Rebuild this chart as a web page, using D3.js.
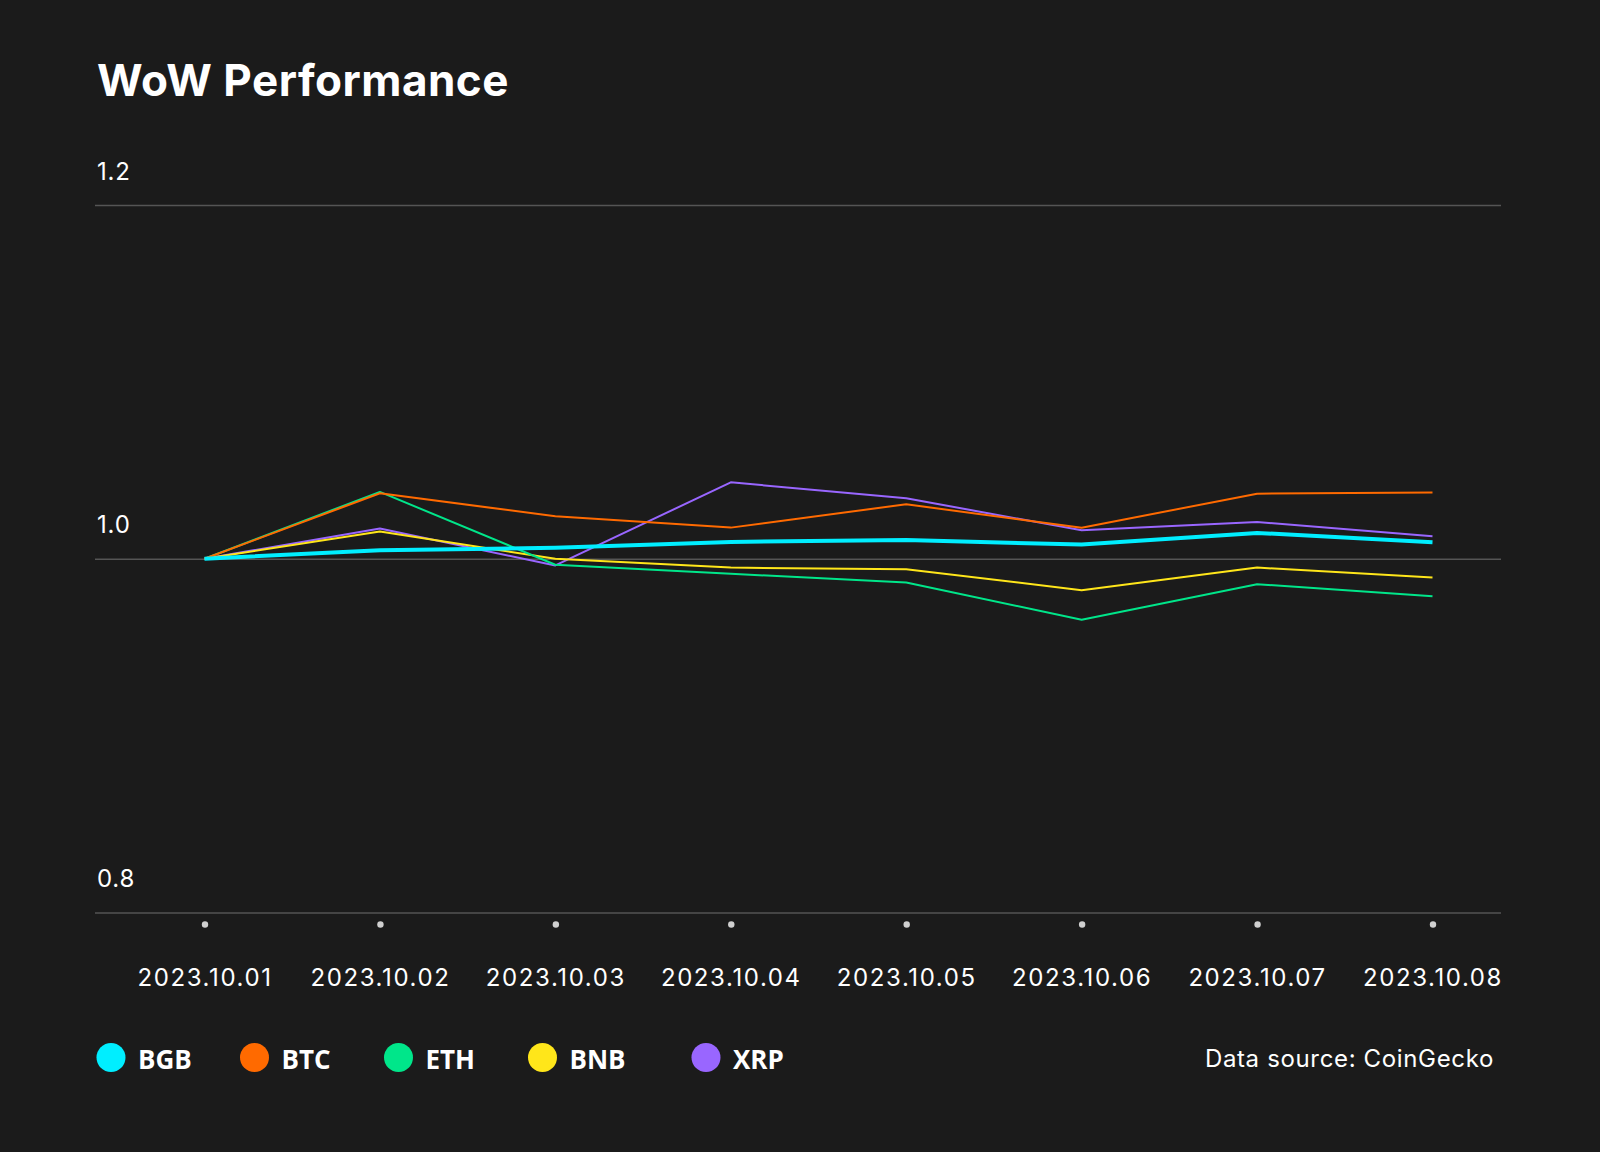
<!DOCTYPE html>
<html>
<head>
<meta charset="utf-8">
<script src="https://cdn.jsdelivr.net/npm/d3@7"></script>
<style>
  html, body { margin: 0; padding: 0; background: #1b1b1b; }
  svg { display: block; }
</style>
</head>
<body>
<svg id="chart" width="1600" height="1152"></svg>
<script>
// ---- data ----
const dates = ["2023.10.01","2023.10.02","2023.10.03","2023.10.04","2023.10.05","2023.10.06","2023.10.07","2023.10.08"];
const seriesNames = ["BGB","BTC","ETH","BNB","XRP"];
const bgb = [1.000, 1.0048, 1.0062, 1.0095, 1.0106, 1.0080, 1.0146, 1.0093];
const btc = [1.000, 1.0370, 1.0240, 1.0176, 1.0308, 1.0175, 1.0368, 1.0374];
const eth = [1.000, 1.0378, 0.9966, 0.9915, 0.9866, 0.9655, 0.9856, 0.9788];
const bnb = [1.000, 1.0154, 1.0000, 0.9950, 0.9941, 0.9822, 0.9950, 0.9894];
const xrp = [1.000, 1.0171, 0.9962, 1.0432, 1.0342, 1.0161, 1.0208, 1.0127];
const yTicks = [0.8, 1.0, 1.2];
const colors = ["#00eeff","#ff6a00","#00e68a","#ffe61a","#9966ff"];

const seriesValues = [bgb, btc, eth, bnb, xrp];

// ---- layout ----
const svg = d3.select("#chart");
const W = 1600, H = 1152;
svg.append("rect").attr("width", W).attr("height", H).attr("fill", "#1b1b1b");

const plotLeft = 95, plotRight = 1501;
const x = d3.scalePoint().domain(dates).range([204.5, 1432.5]);
const y = d3.scaleLinear().domain([0.8, 1.2]).range([912.5, 205]);

// title
svg.append("text")
  .attr("x", 97).attr("y", 96)
  .attr("fill", "#ffffff")
  .attr("font-family", "Inter, 'Noto Sans', sans-serif")
  .attr("font-weight", 700)
  .attr("font-size", 44)
  .attr("letter-spacing", 0.5)
  .text("WoW Performance");

// y grid + labels
const yAxis = d3.axisLeft(y).tickValues(yTicks).tickSize(0).tickFormat(d3.format(".1f"));
const gy = svg.append("g").call(yAxis);
gy.select(".domain").remove();
gy.selectAll(".tick line")
  .attr("x1", plotLeft).attr("x2", plotRight)
  .attr("stroke", "#555555").attr("stroke-width", 1.5);
gy.selectAll(".tick text")
  .attr("x", 97).attr("dy", -26)
  .attr("text-anchor", "start")
  .attr("fill", "#ffffff")
  .attr("font-family", "Inter, 'Noto Sans', sans-serif")
  .attr("font-size", 24)
  .attr("letter-spacing", 0.8);

// x axis: dots + labels
const xAxis = d3.axisBottom(x).tickSize(0).tickPadding(0);
const gx = svg.append("g").attr("transform", "translate(0,912.5)").call(xAxis);
gx.select(".domain").remove();
gx.selectAll(".tick").append("circle")
  .attr("cx", 0).attr("cy", 12).attr("r", 3.2).attr("fill", "#d0d0d0");
gx.selectAll(".tick text")
  .attr("y", 73).attr("dy", 0)
  .attr("fill", "#ffffff")
  .attr("font-family", "Inter, 'Noto Sans', sans-serif")
  .attr("font-size", 24)
  .attr("letter-spacing", 1.6);

// lines (drawn in reverse so BGB is on top)
const line = d3.line().x((d, i) => x(dates[i])).y(d => y(d));
const order = [4, 3, 2, 1, 0];
order.forEach(k => {
  svg.append("path")
    .datum(seriesValues[k])
    .attr("d", line)
    .attr("fill", "none")
    .attr("stroke", colors[k])
    .attr("stroke-width", k === 0 ? 4 : 2)
    .attr("stroke-linejoin", "round");
});

// legend
const legendX = [111, 254.5, 398.5, 542.5, 706];
const lg = svg.append("g");
seriesNames.forEach((name, i) => {
  lg.append("circle")
    .attr("cx", legendX[i]).attr("cy", 1057.5).attr("r", 14.5)
    .attr("fill", colors[i]);
  lg.append("text")
    .attr("x", legendX[i] + 27).attr("y", 1069)
    .attr("fill", "#ffffff")
    .attr("font-family", "'Open Sans', 'Noto Sans', sans-serif")
    .attr("font-weight", 700)
    .attr("font-size", 26)
    .text(name);
});

// source
svg.append("text")
  .attr("x", 1494).attr("y", 1066.5)
  .attr("text-anchor", "end")
  .attr("fill", "#ffffff")
  .attr("font-family", "Inter, 'Noto Sans', sans-serif")
  .attr("font-size", 24)
  .attr("letter-spacing", 0.65)
  .text("Data source: CoinGecko");
</script>
</body>
</html>
